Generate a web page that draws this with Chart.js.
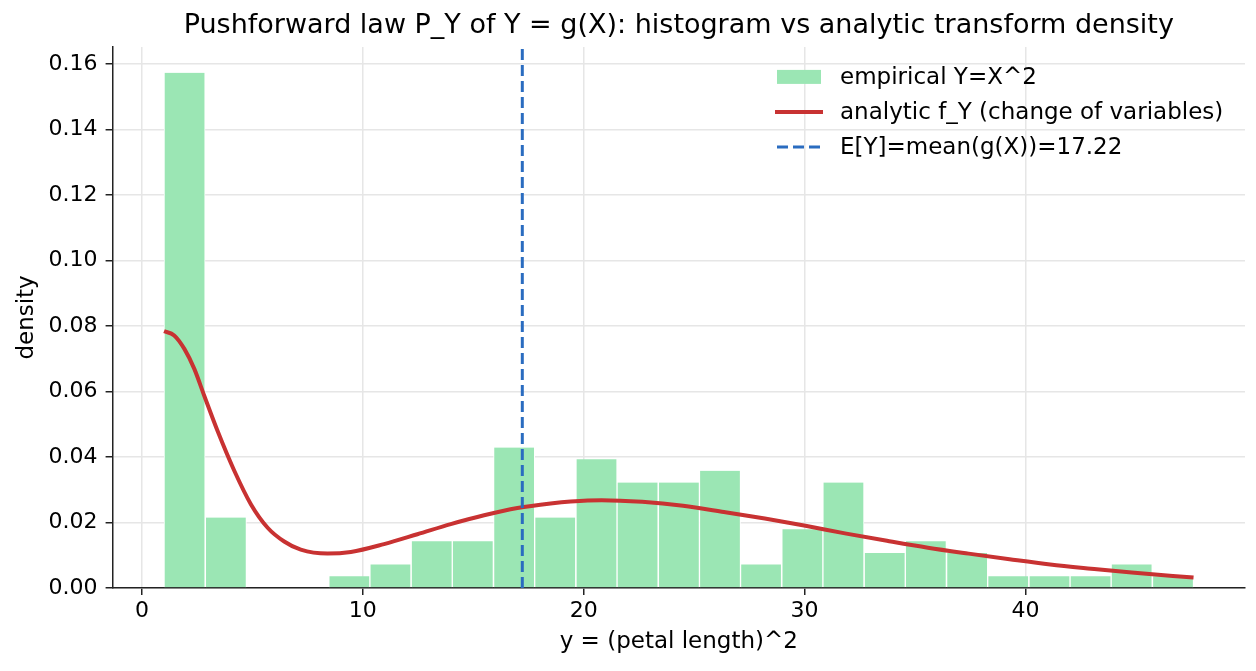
<!DOCTYPE html>
<html>
<head>
<meta charset="utf-8">
<script src="https://cdn.jsdelivr.net/npm/chart.js@4.4.1/dist/chart.umd.min.js"></script>
<style>
  html, body { margin: 0; padding: 0; background: #fff; }
  #wrap { width: 1256px; height: 671px; }
</style>
</head>
<body>
<div id="wrap"><canvas id="myChart" width="1256" height="671"></canvas></div>
<script>
// histogram of Y = X^2 (25 bins, centres and density heights)
const binCenters = [1.93, 3.80, 5.66, 7.53, 9.39, 11.25, 13.12, 14.98, 16.85, 18.71,
  20.58, 22.44, 24.31, 26.17, 28.03, 29.90, 31.76, 33.63, 35.49, 37.36,
  39.22, 41.09, 42.95, 44.81, 46.68];
const binDensity = [0.1573, 0.0215, 0, 0, 0.0036, 0.0072, 0.0143, 0.0143, 0.0429, 0.0215,
  0.0393, 0.0322, 0.0322, 0.0358, 0.0072, 0.0179, 0.0322, 0.0107, 0.0143, 0.0107,
  0.0036, 0.0036, 0.0036, 0.0072, 0.0036];

// analytic f_Y
const curveY = [1.0, 1.46, 1.92, 2.37, 2.82, 3.42, 4.18, 4.93, 5.69, 6.44, 7.19, 8.4, 9.46,
  10.96, 12.47, 13.98, 15.49, 17.0, 18.5, 19.41, 20.81, 22.65, 24.5, 26.35, 28.2,
  30.04, 31.89, 33.73, 35.58, 37.43, 39.28, 41.12, 42.97, 44.81, 47.61];
const curveF = [0.0784, 0.0771, 0.0730, 0.0669, 0.0587, 0.048, 0.0358, 0.0256, 0.0184, 0.0142, 0.0117, 0.0105, 0.011,
  0.0134, 0.0164, 0.0195, 0.0222, 0.0244, 0.0258, 0.0264, 0.0268, 0.0263, 0.0251, 0.0232, 0.0212,
  0.019, 0.0166, 0.0144, 0.0123, 0.0105, 0.0088, 0.0072, 0.0059, 0.0047, 0.0032];

const meanY = 17.22;
const xTicks = [0, 10, 20, 30, 40];
const yTicks = [0, 0.02, 0.04, 0.06, 0.08, 0.10, 0.12, 0.14, 0.16];
const xMin = -1.33, xMax = 49.94, yMax = 0.1652;

const legendLabels = ["empirical Y=X^2", "analytic f_Y (change of variables)", "E[Y]=mean(g(X))=" + meanY.toFixed(2)];

const green = "rgb(155,230,180)";
const red = "#c83232";
const blue = "#2a6cc0";

Chart.defaults.font.family = "'DejaVu Sans', sans-serif";
Chart.defaults.color = "#000";

// matplotlib-like legend in the upper right, no frame
const customLegend = {
  id: "customLegend",
  afterDraw(chart) {
    const ctx = chart.ctx, a = chart.chartArea;
    const sx = a.right - 468, tx = a.right - 405;
    const rows = [a.top + 30, a.top + 65, a.top + 100];
    ctx.save();
    ctx.fillStyle = green;
    ctx.fillRect(sx, rows[0] - 7, 44, 14);
    ctx.strokeStyle = red;
    ctx.lineWidth = 4;
    ctx.beginPath(); ctx.moveTo(sx - 2, rows[1]); ctx.lineTo(sx + 46, rows[1]); ctx.stroke();
    ctx.strokeStyle = blue;
    ctx.lineWidth = 3;
    ctx.setLineDash([11, 5]);
    ctx.beginPath(); ctx.moveTo(sx, rows[2]); ctx.lineTo(sx + 44, rows[2]); ctx.stroke();
    ctx.setLineDash([]);
    ctx.fillStyle = "#000";
    ctx.font = "23px 'DejaVu Sans'";
    ctx.textBaseline = "middle";
    for (let i = 0; i < legendLabels.length; i++) {
      ctx.fillText(legendLabels[i], tx, rows[i] + 1);
    }
    ctx.restore();
  }
};

const ctx = document.getElementById("myChart").getContext("2d");
const myChart = new Chart(ctx, {
  type: "line",
  data: {
    datasets: [
      {
        type: "line",
        label: legendLabels[2],
        data: [{x: meanY, y: 0}, {x: meanY, y: yMax}],
        borderColor: blue,
        borderWidth: 3,
        borderDash: [11, 5],
        pointRadius: 0,
        order: 1
      },
      {
        type: "line",
        label: legendLabels[1],
        data: curveY.map((v, i) => ({x: v, y: curveF[i]})),
        borderColor: red,
        borderWidth: 4,
        pointRadius: 0,
        cubicInterpolationMode: "monotone",
        order: 2
      },
      {
        type: "bar",
        label: legendLabels[0],
        data: binCenters.map((v, i) => ({x: v, y: binDensity[i]})),
        backgroundColor: green,
        borderColor: "#fff",
        borderWidth: {left: 1, right: 1, top: 0, bottom: 0},
        borderSkipped: false,
        barPercentage: 1,
        categoryPercentage: 1,
        order: 3
      }
    ]
  },
  options: {
    responsive: false,
    animation: false,
    layout: { padding: { left: 4, right: 11, top: 4, bottom: 11 } },
    plugins: {
      legend: { display: false },
      tooltip: { enabled: false },
      title: {
        display: true,
        fullSize: false,
        text: "Pushforward law P_Y of Y = g(X): histogram vs analytic transform density",
        font: { size: 27, weight: "normal" },
        color: "#000",
        padding: { top: 6, bottom: 4.5 }
      }
    },
    scales: {
      x: {
        type: "linear",
        min: xMin,
        max: xMax,
        offset: false,
        afterBuildTicks: (axis) => { axis.ticks = xTicks.map(v => ({value: v})); },
        ticks: { font: { size: 22 }, color: "#000", padding: 3, maxRotation: 0 },
        grid: { offset: false, color: "#e6e6e6", lineWidth: 1.5, tickLength: 7, tickColor: "#222", tickWidth: 1.5 },
        border: { display: true, color: "#222", width: 1.5 },
        title: { display: true, text: "y = (petal length)^2", font: { size: 23 }, color: "#000", padding: { top: 1, bottom: 4 } }
      },
      y: {
        type: "linear",
        min: 0,
        max: yMax,
        afterBuildTicks: (axis) => { axis.ticks = yTicks.map(v => ({value: v})); },
        ticks: { font: { size: 22 }, color: "#000", padding: 8, callback: (v) => v.toFixed(2) },
        grid: { color: "#e6e6e6", lineWidth: 1.5, tickLength: 7, tickColor: "#222", tickWidth: 1.5 },
        border: { display: true, color: "#222", width: 1.5 },
        title: { display: true, text: "density", font: { size: 23 }, color: "#000", padding: { top: 9, bottom: 0 } }
      }
    }
  },
  plugins: [customLegend]
});
</script>
</body>
</html>
